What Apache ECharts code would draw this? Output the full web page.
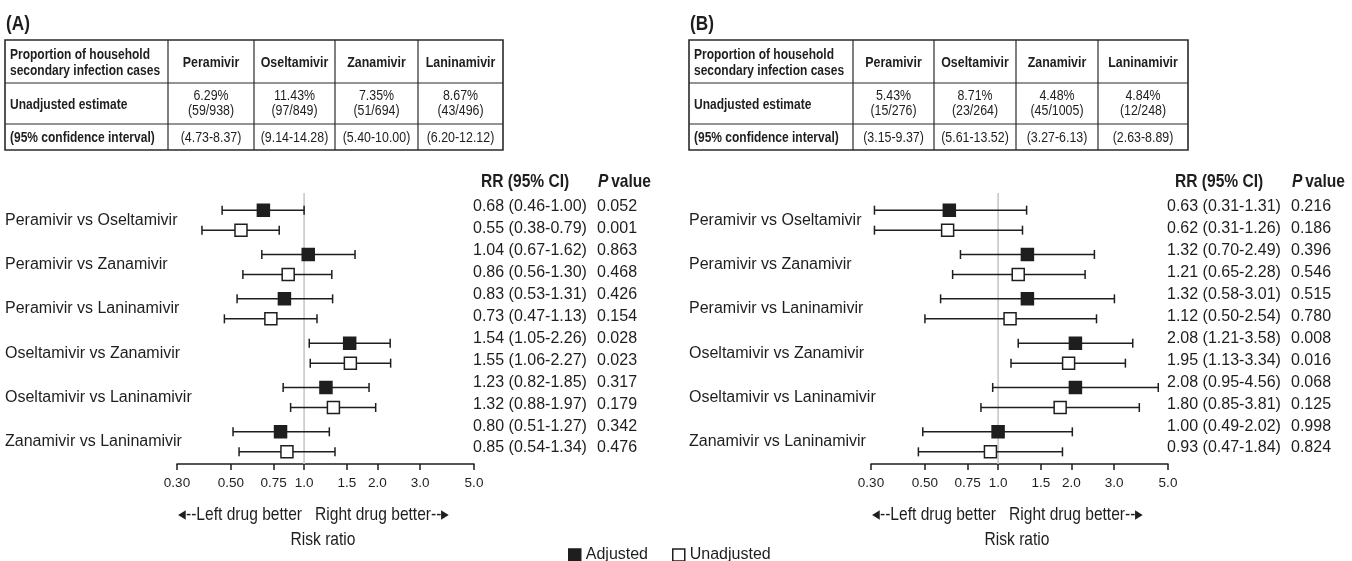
<!DOCTYPE html>
<html>
<head>
<meta charset="utf-8">
<script src="https://cdn.jsdelivr.net/npm/echarts@6/dist/echarts.min.js"></script>
<style>
  html, body { margin: 0; padding: 0; background: #fff; }
  #chart { width: 1352px; height: 561px; }
</style>
</head>
<body>
<div id="chart"></div>
<script>
// ---- Data ---------------------------------------------------------------
const drugs = ['Peramivir', 'Oseltamivir', 'Zanamivir', 'Laninamivir'];
const comparisons = [
  'Peramivir vs Oseltamivir',
  'Peramivir vs Zanamivir',
  'Peramivir vs Laninamivir',
  'Oseltamivir vs Zanamivir',
  'Oseltamivir vs Laninamivir',
  'Zanamivir vs Laninamivir'
];

// Panel A: household secondary infection proportion per drug
const propA = [6.29, 11.43, 7.35, 8.67];
const casesA = [59, 97, 51, 43];
const totalA = [938, 849, 694, 496];
const propLoA = [4.73, 9.14, 5.40, 6.20];
const propHiA = [8.37, 14.28, 10.00, 12.12];

// Panel B: household secondary infection proportion per drug
const propB = [5.43, 8.71, 4.48, 4.84];
const casesB = [15, 23, 45, 12];
const totalB = [276, 264, 1005, 248];
const propLoB = [3.15, 5.61, 3.27, 2.63];
const propHiB = [9.37, 13.52, 6.13, 8.89];

// Panel A risk ratios
const adjRrA = [0.68, 1.04, 0.83, 1.54, 1.23, 0.80];
const adjLoA = [0.46, 0.67, 0.53, 1.05, 0.82, 0.51];
const adjHiA = [1.00, 1.62, 1.31, 2.26, 1.85, 1.27];
const adjPA  = [0.052, 0.863, 0.426, 0.028, 0.317, 0.342];
const unRrA  = [0.55, 0.86, 0.73, 1.55, 1.32, 0.85];
const unLoA  = [0.38, 0.56, 0.47, 1.06, 0.88, 0.54];
const unHiA  = [0.79, 1.30, 1.13, 2.27, 1.97, 1.34];
const unPA   = [0.001, 0.468, 0.154, 0.023, 0.179, 0.476];

// Panel B risk ratios
const adjRrB = [0.63, 1.32, 1.32, 2.08, 2.08, 1.00];
const adjLoB = [0.31, 0.70, 0.58, 1.21, 0.95, 0.49];
const adjHiB = [1.31, 2.49, 3.01, 3.58, 4.56, 2.02];
const adjPB  = [0.216, 0.396, 0.515, 0.008, 0.068, 0.998];
const unRrB  = [0.62, 1.21, 1.12, 1.95, 1.80, 0.93];
const unLoB  = [0.31, 0.65, 0.50, 1.13, 0.85, 0.47];
const unHiB  = [1.26, 2.28, 2.54, 3.34, 3.81, 1.84];
const unPB   = [0.186, 0.546, 0.780, 0.016, 0.125, 0.824];

// Risk-ratio axis ticks (log scale) and the no-difference reference
const tickValues = [0.30, 0.50, 0.75, 1.0, 1.5, 2.0, 3.0, 5.0];
const tickLabels = ['0.30', '0.50', '0.75', '1.0', '1.5', '2.0', '3.0', '5.0'];
const nullRatio = [1.0];

// ---- Styling / layout ---------------------------------------------------
const FONT = '"Liberation Sans", Arial, sans-serif';
const NARROW = 0.82;           // horizontal squeeze for the free-standing text
const TABLE_NARROW = 0.80;
const INK = '#1e1e1e';
const REF = '#c4c4c4';

const panels = [
  {
    tag: '(A)', tagX: 6,
    tableX: [5, 168, 254, 335, 418, 503],
    plotLeft: 177,
    prop: propA, cases: casesA, total: totalA, pLo: propLoA, pHi: propHiA,
    adj: [adjRrA, adjLoA, adjHiA, adjPA], un: [unRrA, unLoA, unHiA, unPA]
  },
  {
    tag: '(B)', tagX: 690,
    tableX: [689, 853, 934, 1016, 1098, 1188],
    plotLeft: 871,
    prop: propB, cases: casesB, total: totalB, pLo: propLoB, pHi: propHiB,
    adj: [adjRrB, adjLoB, adjHiB, adjPB], un: [unRrB, unLoB, unHiB, unPB]
  }
];
const tableY = [40, 83, 124, 150];
const PLOT_W = 297, PLOT_TOP = 198, PLOT_H = 266;
const TEXT_TOP = 196, TEXT_H = 263;
const RR_COL_W = 124;

const lnMin = Math.log(tickValues[0]);
const lnMax = Math.log(tickValues[tickValues.length - 1]);
const lnTicks = tickValues.map(Math.log);

function tickLabel(v) {
  let best = 0;
  lnTicks.forEach((t, i) => { if (Math.abs(t - v) < Math.abs(lnTicks[best] - v)) best = i; });
  return tickLabels[best];
}

// free-standing text, squeezed horizontally around its anchor
function label(x, y, text, font, align, squeeze) {
  return {
    type: 'text', x: x, y: y, scaleX: squeeze || NARROW,
    style: { text: text, font: font, fill: INK, align: align || 'left', verticalAlign: 'middle' }
  };
}

// one confidence-interval bar with its square marker
function forestItem(offset, filled) {
  return function (params, api) {
    const cat = api.value(0);
    const c = api.coord([api.value(1), cat]);
    const lo = api.coord([api.value(2), cat]);
    const hi = api.coord([api.value(3), cat]);
    const y = c[1] + offset;
    const cap = 4.5, half = 6;
    const ls = { stroke: INK, lineWidth: 1.5 };
    return {
      type: 'group',
      children: [
        { type: 'line', shape: { x1: lo[0], y1: y, x2: hi[0], y2: y }, style: ls },
        { type: 'line', shape: { x1: lo[0], y1: y - cap, x2: lo[0], y2: y + cap }, style: ls },
        { type: 'line', shape: { x1: hi[0], y1: y - cap, x2: hi[0], y2: y + cap }, style: ls },
        { type: 'rect', shape: { x: c[0] - half, y: y - half, width: half * 2, height: half * 2 },
          style: { fill: filled ? INK : '#fff', stroke: INK, lineWidth: 1.5 } }
      ]
    };
  };
}

// vertical reference line at RR = 1, a little taller than the plot area
function refLineItem(params, api) {
  const cs = params.coordSys;
  const x = api.coord([api.value(0), 0])[0];
  return { type: 'line', shape: { x1: x, y1: cs.y - 5, x2: x, y2: cs.y + cs.height },
           style: { stroke: REF, lineWidth: 1.5 } };
}

const fmtCI = (lo, hi) => lo.toFixed(2) + '-' + hi.toFixed(2);

const grid = [], xAxis = [], yAxis = [], series = [], graphic = [];

panels.forEach((p, k) => {
  const gF = k * 2, gT = k * 2 + 1;
  const dx = p.plotLeft - 177;

  // forest plot grid
  grid.push({ left: p.plotLeft, top: PLOT_TOP, width: PLOT_W, height: PLOT_H });
  xAxis.push({
    gridIndex: gF, type: 'value', min: lnMin, max: lnMax,
    splitLine: { show: false },
    axisLine: { show: true, lineStyle: { color: INK, width: 1.5 } },
    axisTick: { show: true, customValues: lnTicks, length: 6, inside: false,
                lineStyle: { color: INK, width: 1.5 } },
    axisLabel: { customValues: lnTicks, formatter: tickLabel, margin: 12,
                 fontFamily: FONT, fontSize: 13.5, color: INK }
  });
  yAxis.push({
    gridIndex: gF, type: 'category', inverse: true, data: comparisons,
    axisLine: { show: false }, axisTick: { show: false }, splitLine: { show: false },
    axisLabel: { margin: p.plotLeft - (p.tagX - 1), align: 'left',
                 fontFamily: FONT, fontSize: 16, color: INK }
  });

  // RR (95% CI) and P value column
  const rows = [];
  comparisons.forEach((c, i) => {
    rows.push(p.adj[0][i].toFixed(2) + ' (' + fmtCI(p.adj[1][i], p.adj[2][i]) + ')|' + p.adj[3][i].toFixed(3));
    rows.push(p.un[0][i].toFixed(2) + ' (' + fmtCI(p.un[1][i], p.un[2][i]) + ')|' + p.un[3][i].toFixed(3));
  });
  grid.push({ left: p.plotLeft + PLOT_W - 1, top: TEXT_TOP, width: 178, height: TEXT_H });
  xAxis.push({ gridIndex: gT, type: 'value', show: false, min: 0, max: 1 });
  yAxis.push({
    gridIndex: gT, type: 'category', inverse: true, data: rows, position: 'left',
    axisLine: { show: false }, axisTick: { show: false }, splitLine: { show: false },
    axisLabel: {
      inside: true, margin: 0, align: 'left',
      formatter: v => { const s = v.split('|'); return '{r|' + s[0] + '}{p|' + s[1] + '}'; },
      rich: {
        r: { width: RR_COL_W, fontFamily: FONT, fontSize: 16, color: INK },
        p: { fontFamily: FONT, fontSize: 16, color: INK }
      }
    }
  });

  series.push({
    type: 'custom', xAxisIndex: gF, yAxisIndex: gF, z: 1, silent: true,
    encode: { x: 0 }, renderItem: refLineItem,
    data: nullRatio.map(v => [Math.log(v)])
  });

  const toData = (set) => comparisons.map((c, i) =>
    [i, Math.log(set[0][i]), Math.log(set[1][i]), Math.log(set[2][i])]);
  series.push({
    name: 'Adjusted', type: 'custom', xAxisIndex: gF, yAxisIndex: gF, z: 3,
    itemStyle: { color: INK },
    encode: { x: [1, 2, 3], y: 0 },
    renderItem: forestItem(-10, true), data: toData(p.adj)
  });
  series.push({
    name: 'Unadjusted', type: 'custom', xAxisIndex: gF, yAxisIndex: gF, z: 3,
    itemStyle: { color: '#fff', borderColor: INK, borderWidth: 1.5 },
    encode: { x: [1, 2, 3], y: 0 },
    renderItem: forestItem(10, false), data: toData(p.un)
  });

  // panel tag
  graphic.push(label(p.tagX, 24, p.tag, 'bold 21px ' + FONT, 'left'));

  // column headers of the RR list
  const colX = p.plotLeft + PLOT_W - 1;
  graphic.push(label(colX + 8, 182, 'RR (95% CI)', 'bold 19px ' + FONT, 'left'));
  graphic.push({
    type: 'text', x: colX + RR_COL_W + 1, y: 182, scaleX: NARROW,
    style: { text: '{i|P} {b|value}', verticalAlign: 'middle',
             rich: { i: { font: 'italic bold 19px ' + FONT, fill: INK },
                     b: { font: 'bold 19px ' + FONT, fill: INK } } }
  });

  // direction hints and axis title
  graphic.push(label(302 + dx, 515, '\u25C2--Left drug better', '19px ' + FONT, 'right'));
  graphic.push(label(315 + dx, 515, 'Right drug better--\u25B8', '19px ' + FONT, 'left'));
  graphic.push(label(323 + dx, 540, 'Risk ratio', '19px ' + FONT, 'center'));

  // summary table
  const tx = p.tableX, ty = tableY;
  graphic.push({ type: 'rect', shape: { x: tx[0], y: ty[0], width: tx[5] - tx[0], height: ty[3] - ty[0] },
    style: { fill: 'none', stroke: '#2a2a2a', lineWidth: 1.6 } });
  for (let c = 1; c < 5; c++) {
    graphic.push({ type: 'line', shape: { x1: tx[c], y1: ty[0], x2: tx[c], y2: ty[3] },
      style: { stroke: '#2a2a2a', lineWidth: 1.2 } });
  }
  for (let r = 1; r < 3; r++) {
    graphic.push({ type: 'line', shape: { x1: tx[0], y1: ty[r], x2: tx[5], y2: ty[r] },
      style: { stroke: '#2a2a2a', lineWidth: 1.2 } });
  }
  const rowMid = r => (ty[r] + ty[r + 1]) / 2;
  const rowHeads = ['Proportion of household\nsecondary infection cases', 'Unadjusted estimate', '(95% confidence interval)'];
  rowHeads.forEach((t, r) => {
    const el = label(tx[0] + 5, rowMid(r) + 1, t, 'bold 15px ' + FONT, 'left', TABLE_NARROW);
    el.style.lineHeight = 16;
    graphic.push(el);
  });
  drugs.forEach((d, i) => {
    const cx = (tx[i + 1] + tx[i + 2]) / 2;
    graphic.push(label(cx, rowMid(0) + 1, d, 'bold 15.5px ' + FONT, 'center', TABLE_NARROW));
    const v = label(cx, rowMid(1), p.prop[i].toFixed(2) + '%\n(' + p.cases[i] + '/' + p.total[i] + ')',
                    '15.5px ' + FONT, 'center', TABLE_NARROW);
    v.style.lineHeight = 15;
    graphic.push(v);
    graphic.push(label(cx, rowMid(2) + 1, '(' + fmtCI(p.pLo[i], p.pHi[i]) + ')', '15.5px ' + FONT,
                       'center', TABLE_NARROW));
  });
});

const chart = echarts.init(document.getElementById('chart'), null, { renderer: 'canvas' });
chart.setOption({
  backgroundColor: '#fff',
  animation: false,
  grid, xAxis, yAxis, series, graphic,
  legend: {
    left: 563, top: 542, itemWidth: 12, itemHeight: 12, itemGap: 24,
    textStyle: { fontFamily: FONT, fontSize: 16, color: INK },
    data: [
      { name: 'Adjusted', icon: 'rect', itemStyle: { color: INK, borderColor: INK, borderWidth: 1.5 } },
      { name: 'Unadjusted', icon: 'rect', itemStyle: { color: '#fff', borderColor: INK, borderWidth: 1.5 } }
    ]
  }
});
</script>
</body>
</html>
